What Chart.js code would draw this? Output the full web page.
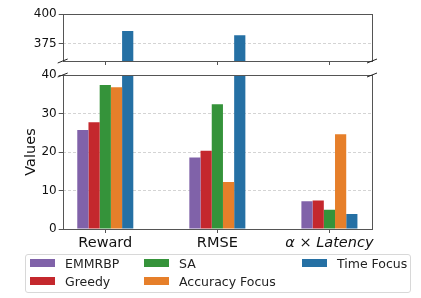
<!DOCTYPE html>
<html>
<head>
<meta charset="utf-8">
<script src="https://cdn.jsdelivr.net/npm/chart.js@4"></script>
<style>
  body { margin: 0; background: #fff; }
  #wrap { position: relative; width: 421px; height: 298px; font-family: "DejaVu Sans", sans-serif; }
  #wrap canvas { position: absolute; left: 0; top: 0; }
  #legend { position: absolute; left: 25px; top: 254px; width: 386px; height: 39px;
            border: 1px solid #d8d8d8; border-radius: 3px; box-sizing: border-box; }
  .item { position: absolute; font-size: 12.5px; color: #222; white-space: nowrap; line-height: 14px; }
  .sw { display: inline-block; width: 25px; height: 8px; margin-right: 10px; vertical-align: 1px; }
</style>
</head>
<body>
<div id="wrap">
  <canvas id="upper" width="421" height="298"></canvas>
  <canvas id="lower" width="421" height="298"></canvas>
  <div id="legend"></div>
</div>
<script>
const categories = ['Reward', 'RMSE', 'α × Latency'];
const seriesNames = ['EMMRBP', 'Greedy', 'SA', 'Accuracy Focus', 'Time Focus'];
const emmrbp = [25.7, 18.6, 7.2];
const greedy = [27.7, 20.3, 7.4];
const sa = [37.4, 32.4, 5.0];
const accuracyFocus = [36.8, 12.2, 24.6];
const timeFocus = [385.6, 381.9, 3.9];
const upperTicks = [375, 400];
const lowerTicks = [0, 10, 20, 30, 40];

const seriesValues = [emmrbp, greedy, sa, accuracyFocus, timeFocus];
const colors = ['#8062a9', '#c4282d', '#35933a', '#e67f2a', '#2570a4'];

Chart.defaults.font.family = '"DejaVu Sans", sans-serif';
Chart.defaults.color = '#222';

function makeDatasets() {
  return seriesNames.map(function(name, s) {
    return {
      label: name,
      data: seriesValues[s].map(function(v, i) { return {x: i, y: v}; }),
      backgroundColor: colors[s],
      borderWidth: 0,
      categoryPercentage: 0.5,
      barPercentage: 1.0
    };
  });
}

// frame + little diagonal break marks
function framePlugin(breakAt) {
  return {
    id: 'frame',
    afterDraw: function(chart) {
      const a = chart.chartArea, ctx = chart.ctx;
      ctx.save();
      ctx.strokeStyle = '#555';
      ctx.lineWidth = 1;
      ctx.strokeRect(Math.round(a.left) + 0.5, Math.round(a.top) + 0.5,
                     Math.round(a.right - a.left), Math.round(a.bottom - a.top));
      const y = breakAt === 'bottom' ? a.bottom : a.top;
      ctx.strokeStyle = '#222';
      [a.left, a.right].forEach(function(x) {
        ctx.beginPath();
        ctx.moveTo(x - 5, y + 2);
        ctx.lineTo(x + 5, y - 2);
        ctx.stroke();
      });
      ctx.restore();
    }
  };
}

function xScale(showLabels) {
  return {
    type: 'linear',
    min: -0.38,
    max: 2.38,
    offset: false,
    afterBuildTicks: function(scale) {
      scale.ticks = categories.map(function(c, i) { return {value: i}; });
    },
    afterFit: function(scale) { scale.height = showLabels ? 69 : 237; },
    grid: { offset: false, drawOnChartArea: false, drawTicks: true, tickLength: 4, tickColor: '#555' },
    border: { display: false },
    ticks: {
      display: showLabels,
      padding: 2,
      autoSkip: false,
      maxRotation: 0,
      callback: function(v) { return categories[v]; },
      font: function(ctx) {
        return { size: 14.5, style: ctx.index === 2 ? 'italic' : 'normal' };
      },
      color: '#111'
    }
  };
}

function yScale(min, max, tickList, withTitle) {
  return {
    min: min,
    max: max,
    afterBuildTicks: function(scale) {
      scale.ticks = tickList.map(function(v) { return {value: v}; });
    },
    afterFit: function(scale) { scale.width = 62.7; },
    grid: { color: '#d4d4d4', tickLength: 4, tickColor: '#555', tickBorderDash: [] },
    border: { display: false, dash: [3, 2] },
    ticks: { font: { size: 12 }, padding: 2, color: '#111' },
    title: {
      display: withTitle,
      text: 'Values',
      font: { size: 14.5 },
      color: '#111',
      padding: { top: 23, bottom: 0 }
    }
  };
}

function makeChart(id, top, yMin, yMax, tickList, lower) {
  return new Chart(document.getElementById(id), {
    type: 'bar',
    data: { datasets: makeDatasets() },
    options: {
      responsive: false,
      animation: false,
      layout: { padding: { left: 0, right: 49, top: top, bottom: 0 } },
      plugins: { legend: { display: false }, tooltip: { enabled: false } },
      scales: {
        x: xScale(lower),
        y: yScale(yMin, yMax, tickList, lower)
      }
    },
    plugins: [framePlugin(lower ? 'top' : 'bottom')]
  });
}

makeChart('upper', 14, 360, 400, upperTicks, false);
makeChart('lower', 75, 0, 40, lowerTicks, true);

// legend in column-major order, 2 rows
const legend = document.getElementById('legend');
const colX = [4, 118, 276];
seriesNames.forEach(function(name, s) {
  const el = document.createElement('div');
  el.className = 'item';
  el.style.left = colX[Math.floor(s / 2)] + 'px';
  el.style.top = (s % 2 === 0 ? 2 : 20) + 'px';
  el.innerHTML = '<span class="sw" style="background:' + colors[s] + '"></span>' + name;
  legend.appendChild(el);
});
</script>
</body>
</html>
